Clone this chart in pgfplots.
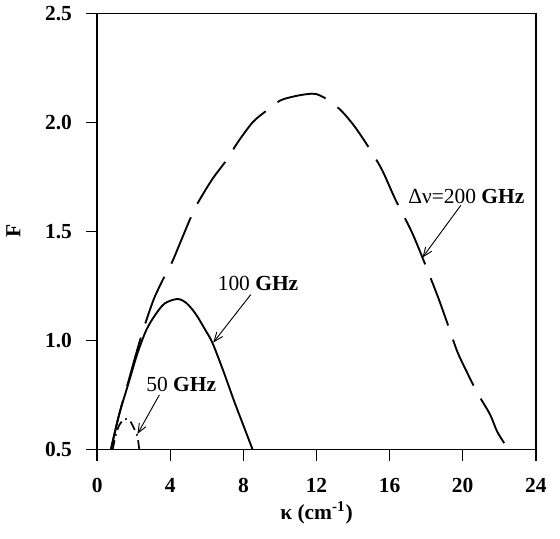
\documentclass[border=0pt]{standalone}
\usepackage{fontspec}
\setmainfont{Liberation Serif}
\usepackage{pgfplots}
\pgfplotsset{compat=1.18}
\usetikzlibrary{arrows.meta,calc}

\pgfplotstableread{
k F
0.75 0.50
1.2 0.66
1.7 0.81
2.2 0.96
2.6 1.07
3.1 1.19
3.6 1.28
4.1 1.36
4.6 1.46
5.1 1.56
5.5 1.63
6.3 1.74
7.1 1.83
7.7 1.91
8.5 2.00
9.2 2.05
10.0 2.10
10.8 2.12
11.5 2.13
12.0 2.13
12.7 2.10
13.4 2.05
14.1 1.98
14.9 1.88
15.6 1.78
16.3 1.65
17.2 1.50
17.8 1.38
18.6 1.21
19.2 1.07
19.7 0.95
20.2 0.86
20.8 0.76
21.5 0.66
21.9 0.58
22.5 0.50
}\gtwohundred

\pgfplotstableread{
k F
0.75 0.50
1.2 0.66
1.7 0.80
2.2 0.94
2.7 1.05
3.2 1.12
3.7 1.17
4.4 1.19
4.9 1.17
5.4 1.12
5.9 1.05
6.3 0.99
6.9 0.86
7.5 0.72
8.0 0.61
8.5 0.50
}\gonehundred

\pgfplotstableread{
k F
0.85 0.50
1.0 0.56
1.2 0.61
1.5 0.64
1.8 0.63
2.05 0.59
2.2 0.56
2.3 0.50
}\gfifty

\begin{document}
\begin{tikzpicture}
\begin{axis}[
    width=235pt, height=233.6pt,
    scale only axis,
    xmin=0, xmax=24,
    ymin=0.5, ymax=2.5,
    xtick={0,4,...,24},
    ytick={0.5,1.0,1.5,2.0,2.5},
    xtick pos=bottom, ytick pos=left,
    yticklabel style={/pgf/number format/fixed, /pgf/number format/fixed zerofill, /pgf/number format/precision=1, xshift=-4pt},
    tick align=outside,
    tick style={black, line width=0.8pt},
    major tick length=6pt,
    axis line style={line width=0.9pt},
    ticklabel style={font=\fontsize{11.5}{13}\selectfont\bfseries},
    xticklabel style={yshift=-6pt},
    /pgf/number format/assume math mode=true,
    xlabel={\textbf{κ (cm\textsuperscript{-1})}},
    ylabel={\textbf{F}},
    label style={font=\fontsize{11.5}{13}\selectfont},
    ylabel style={at={(axis description cs:0,0.5)}, anchor=center, yshift=45pt},
    xlabel style={at={(axis description cs:0.5,0)}, anchor=center, yshift=-34pt},
    clip=false,
]
\addplot[black, line width=1pt, smooth, dash pattern=on 27pt off 8pt] table[x=k, y=F] {\gtwohundred};
\addplot[black, line width=1pt, smooth] table[x=k, y=F] {\gonehundred};
\addplot[black, line width=0.9pt, smooth, dash pattern=on 5pt off 2.5pt on 0.8pt off 2.5pt] table[x=k, y=F] {\gfifty};

\node[font=\fontsize{11.5}{13}\selectfont] at (axis cs:8.8,1.26) {100 \textbf{GHz}};
\draw[-{Straight Barb[length=5pt,width=4pt]}, line width=0.5pt] (axis cs:8.4,1.21) -- (axis cs:6.35,0.99);
\node[font=\fontsize{11.5}{13}\selectfont] at (axis cs:4.6,0.80) {50 \textbf{GHz}};
\draw[-{Straight Barb[length=5pt,width=4pt]}, line width=0.5pt] (axis cs:3.4,0.75) -- (axis cs:2.2,0.57);
\node[font=\fontsize{11.5}{13}\selectfont] at (axis cs:20.2,1.66) {Δν=200 \textbf{GHz}};
\draw[-{Straight Barb[length=5pt,width=4pt]}, line width=0.5pt] (axis cs:19.9,1.62) -- (axis cs:17.8,1.38);
\end{axis}
\path ($(current axis.south west)+(-52pt,-48pt)$) rectangle ($(current axis.north east)+(13pt,6.4pt)$);
\end{tikzpicture}
\end{document}
